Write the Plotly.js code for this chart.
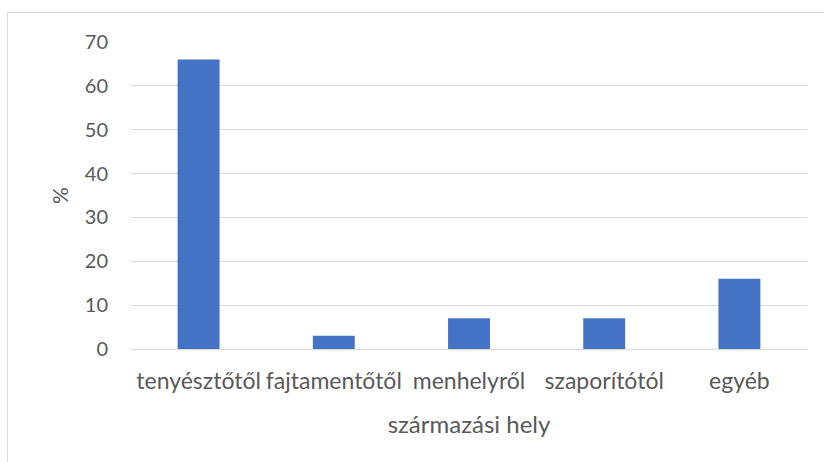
<!DOCTYPE html>
<html>
<head>
<meta charset="utf-8">
<script src="https://cdn.plot.ly/plotly-3.0.1.min.js"></script>
<style>
  html, body { margin: 0; padding: 0; background: #fff; }
  #wrap { position: relative; width: 824px; height: 462px; overflow: hidden; }
  #chart { width: 824px; height: 462px; }
  #frame { position: absolute; left: 7px; top: 12px; width: 830px; height: 470px;
           border: 1px solid #d9d9d9; pointer-events: none; }
</style>
</head>
<body>
<div id="wrap">
  <div id="chart"></div>
  <div id="frame"></div>
</div>
<script>
const categories = ["tenyésztőtől", "fajtamentőtől", "menhelyről", "szaporítótól", "egyéb"];
const values = [66, 3, 7, 7, 16];
const yTicks = [0, 10, 20, 30, 40, 50, 60, 70];
const xTitle = "származási hely";
const yTitle = "%";

const fontFam = "Lato, 'Open Sans', sans-serif";

const trace = {
  type: "bar",
  x: categories,
  y: values,
  marker: { color: "#4472C4" },
  hoverinfo: "x+y"
};

const layout = {
  width: 824,
  height: 462,
  margin: { l: 131, r: 17, t: 42, b: 113 },
  paper_bgcolor: "#ffffff",
  plot_bgcolor: "#ffffff",
  bargap: 0.69,
  showlegend: false,
  font: { family: fontFam, color: "#595959", size: 20 },
  xaxis: {
    type: "category",
    showgrid: false,
    showline: false,
    ticks: "",
    ticklabelstandoff: 16,
    tickfont: { family: fontFam, size: 23, color: "#595959" },
    title: { text: xTitle, font: { family: fontFam, size: 24, color: "#595959" }, standoff: 23 },
    fixedrange: true
  },
  yaxis: {
    range: [0, 70],
    tickvals: yTicks,
    ticktext: yTicks.map(String),
    showgrid: true,
    gridcolor: "#d9d9d9",
    gridwidth: 1,
    zeroline: true,
    zerolinecolor: "#d9d9d9",
    zerolinewidth: 1,
    showline: false,
    ticks: "",
    ticklabelstandoff: 22,
    tickfont: { family: fontFam, size: 20, color: "#595959" },
    title: { text: yTitle, font: { family: fontFam, size: 21, color: "#595959" }, standoff: 10 },
    fixedrange: true
  }
};

Plotly.newPlot("chart", [trace], layout, { displayModeBar: false, staticPlot: true });
</script>
</body>
</html>
